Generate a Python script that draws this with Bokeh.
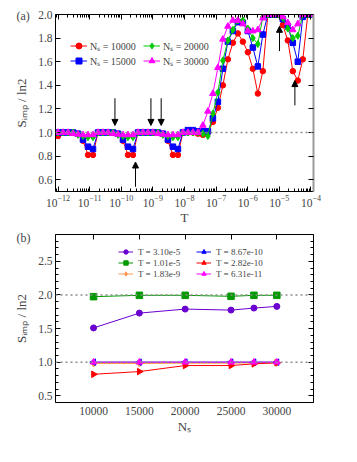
from bokeh.plotting import figure
from bokeh.models import (Range1d, LogAxis, LinearAxis, LogTicker, SingleIntervalTicker,
                          Span, Arrow, NormalHead, Legend, LegendItem, Title,
                          CustomJSTickFormatter, NumeralTickFormatter)
from bokeh.layouts import column
from bokeh.embed import file_html
from bokeh.resources import INLINE

FONT = "Liberation Serif"

# ---------------- panel (a) data ----------------
log10_T = [-12.000, -11.842, -11.684, -11.526, -11.368, -11.210, -11.052, -10.894, -10.736, -10.578,
           -10.420, -10.262, -10.104, -9.946, -9.788, -9.630, -9.472, -9.314, -9.156, -8.998,
           -8.840, -8.682, -8.524, -8.366, -8.208, -8.050, -7.892, -7.734, -7.576, -7.418,
           -7.260, -7.102, -6.944, -6.786, -6.628, -6.470, -6.312, -6.154, -5.996, -5.838,
           -5.680, -5.522, -5.364, -5.206, -5.048, -4.890, -4.732, -4.574, -4.416, -4.258,
           -4.100, -3.942]
S_10000 = [0.97, 1.0, 1.0, 1.0, 0.99, 0.93, 0.81, 0.81, 1.0, 1.0,
           1.0, 1.0, 0.99, 0.93, 0.81, 0.81, 1.0, 1.0, 1.0, 1.0,
           1.0, 0.99, 0.93, 0.81, 0.81, 1.0, 1.0, 1.0, 0.99, 0.98,
           1.0, 1.09, 1.21, 1.40, 1.62, 1.76, 1.84, 1.77, 1.68, 1.54,
           1.33, 1.52, 2.0, 2.0, 2.0, 1.91, 1.78, 1.52, 1.44, 1.62,
           2.0, 2.0]
S_15000 = [1.0, 1.0, 1.0, 1.0, 0.99, 0.94, 0.88, 0.86, 1.0, 1.0,
           1.0, 1.0, 0.99, 0.94, 0.88, 0.86, 1.0, 1.0, 1.0, 1.0,
           1.0, 0.99, 0.94, 0.88, 0.86, 1.0, 1.02, 1.02, 1.01, 1.01,
           1.01, 1.12, 1.26, 1.54, 1.77, 1.86, 1.935, 1.93, 1.86, 1.72,
           1.56, 1.83, 2.0, 2.0, 2.0, 1.96, 1.90, 1.76, 1.60, 1.98,
           2.0, 2.0]
S_20000 = [1.0, 1.0, 1.0, 1.0, 0.98, 0.97, 0.96, 0.96, 1.0, 1.0,
           1.0, 1.0, 0.98, 0.97, 0.96, 0.96, 1.0, 1.0, 1.0, 1.0,
           1.0, 0.98, 0.97, 0.96, 0.96, 1.0, 1.0, 1.0, 1.0, 0.99,
           0.97, 1.16, 1.34, 1.61, 1.78, 1.87, 1.95, 1.95, 1.88, 1.80,
           1.75, 1.98, 2.0, 2.0, 2.0, 1.97, 1.88, 1.80, 1.82, 2.0,
           2.0, 2.0]
S_30000 = [1.0, 1.0, 1.0, 0.99, 0.985, 0.98, 0.98, 0.98, 1.0, 1.0,
           1.0, 0.99, 0.985, 0.98, 0.98, 0.98, 1.0, 1.0, 1.0, 1.0,
           0.99, 0.985, 0.98, 0.98, 0.98, 1.0, 1.0, 1.0, 1.0, 1.06,
           1.18, 1.33, 1.55, 1.79, 1.90, 1.95, 1.95, 1.92, 1.86, 1.86,
           1.87, 1.97, 2.0, 2.0, 2.0, 1.98, 1.93, 1.87, 1.92, 2.0,
           2.0, 2.0]
Ns_labels_a = ["N\u209b = 10000", "N\u209b = 15000", "N\u209b = 20000", "N\u209b = 30000"]

# ---------------- panel (b) data ----------------
Ns = [10000, 15000, 20000, 25000, 27500, 30000]
S_T310e5 = [1.51, 1.73, 1.79, 1.775, 1.805, 1.83]
S_T101e5 = [1.975, 1.995, 1.995, 1.98, 1.995, 1.995]
S_T183e9 = [0.98, 0.98, 0.985, 0.985, 0.99, 0.99]
S_T867e10 = [1.0, 1.0, 1.0, 1.0, 1.0, 1.0]
S_T282e10 = [0.82, 0.86, 0.95, 0.95, 0.975, 0.99]
S_T631e11 = [1.0, 1.0, 1.0, 1.0, 1.0, 1.0]
T_labels_b = ["T = 3.10e-5", "T = 1.01e-5", "T = 1.83e-9",
              "T = 8.67e-10", "T = 2.82e-10", "T = 6.31e-11"]
T_marked = [3.10e-5, 1.01e-5, 1.83e-9, 8.67e-10, 2.82e-10, 6.31e-11]

YLABEL = "S\u1d62\u2098\u209a / ln2"


def style_axis(ax, tick_font="11.5px"):
    ax.major_tick_in = 5
    ax.major_tick_out = 0
    ax.minor_tick_in = 3
    ax.minor_tick_out = 0
    ax.major_label_text_font = FONT
    ax.major_label_text_font_size = tick_font
    ax.axis_label_text_font = FONT
    ax.axis_label_text_font_size = "13px"
    ax.axis_label_text_font_style = "normal"
    ax.axis_line_color = "black"
    ax.major_tick_line_color = "black"
    ax.minor_tick_line_color = "black"


def blank_axis(ax):
    ax.formatter = CustomJSTickFormatter(code="return ''")
    ax.major_label_standoff = 0
    ax.major_label_text_font_size = "1px"


def panel_title(text, standoff):
    return Title(text=text, align="left", offset=-39, standoff=standoff,
                 text_font=FONT, text_font_size="12px", text_font_style="normal")


# ================= panel (a) =================
pa = figure(width=338, height=228, x_axis_type="log",
            x_range=Range1d(10 ** -12.08, 10 ** -3.92), y_range=Range1d(0.5, 2.0),
            output_backend="svg", toolbar_location=None,
            min_border_left=55, min_border_right=25, min_border_top=14, min_border_bottom=37)
pa.xgrid.grid_line_color = None
pa.ygrid.grid_line_color = None
pa.outline_line_color = None

xt = LogTicker(desired_num_ticks=9, num_minor_ticks=10)
yt = SingleIntervalTicker(interval=0.2, num_minor_ticks=0)
pa.xaxis.ticker = xt
pa.yaxis.ticker = yt
pa.yaxis.formatter = NumeralTickFormatter(format="0.0")
pa.xaxis.axis_label = "T"
pa.yaxis.axis_label = YLABEL
style_axis(pa.xaxis[0])
style_axis(pa.yaxis[0])
pa.xaxis.major_label_standoff = 3
pa.xaxis.axis_label_standoff = 0
pa.yaxis.major_label_standoff = 3
pa.yaxis.axis_label_standoff = 6

ax_top = LogAxis(ticker=xt)
style_axis(ax_top)
blank_axis(ax_top)
pa.add_layout(ax_top, "above")
ax_right = LinearAxis(ticker=yt)
style_axis(ax_right)
blank_axis(ax_right)
ax_right.axis_line_color = "#9a9a9a"
ax_right.axis_line_width = 2
pa.add_layout(ax_right, "right")

pa.add_layout(Span(location=1.0, dimension="width", line_color="#8c8c8c",
                   line_dash="2 3", line_width=1.5))

T_a = [10 ** e for e in log10_T]
series_a = [
    (S_10000, "#ff0000", "circle", 5.5),
    (S_15000, "#0000ff", "square", 5.5),
    (S_20000, "#00cc00", "diamond", 7),
    (S_30000, "#ff00ff", "triangle", 6.5),
]
items_a = []
for (vals, col, mk, sz), lab in zip(series_a, Ns_labels_a):
    r1 = pa.line(T_a, vals, line_color=col, line_width=1)
    r2 = pa.scatter(T_a, vals, marker=mk, size=sz, fill_color=col, line_color=col)
    items_a.append(LegendItem(label=lab, renderers=[r1, r2]))

leg_a = Legend(items=items_a, location=(15, 123), orientation="vertical", nrows=2,
               border_line_color=None, background_fill_alpha=0, padding=0, margin=0,
               spacing=0, glyph_width=17, glyph_height=15, label_height=15,
               label_width=53, label_standoff=3,
               label_text_font=FONT, label_text_font_size="10px")
pa.add_layout(leg_a)

arrow_specs = [  # (T, y_start, y_end)
    (T_marked[0], 1.23, 1.44),
    (T_marked[1], 1.69, 1.90),
    (T_marked[2], 1.29, 1.06),
    (T_marked[3], 1.29, 1.06),
    (T_marked[4], 0.54, 0.75),
    (T_marked[5], 1.29, 1.06),
]
for t, y0, y1 in arrow_specs:
    pa.add_layout(Arrow(end=NormalHead(size=6, fill_color="black", line_color="black"),
                        x_start=t, y_start=y0, x_end=t, y_end=y1,
                        line_color="black", line_width=1))

pa.add_layout(panel_title("(a)", -17), "above")

# ================= panel (b) =================
pb = figure(width=338, height=210,
            x_range=Range1d(5850, 34000), y_range=Range1d(0.4, 2.9),
            output_backend="svg", toolbar_location=None,
            min_border_left=55, min_border_right=25, min_border_top=6, min_border_bottom=36)
pb.xgrid.grid_line_color = None
pb.ygrid.grid_line_color = None
pb.outline_line_color = None

bxt = SingleIntervalTicker(interval=5000, num_minor_ticks=0)
byt = SingleIntervalTicker(interval=0.5, num_minor_ticks=5)
pb.xaxis.ticker = bxt
pb.yaxis.ticker = byt
pb.yaxis.formatter = NumeralTickFormatter(format="0.0")
pb.xaxis.formatter = NumeralTickFormatter(format="0")
pb.xaxis.axis_label = "N\u209b"
pb.yaxis.axis_label = YLABEL
style_axis(pb.xaxis[0])
style_axis(pb.yaxis[0])
pb.xaxis.major_tick_in = 0
pb.xaxis.major_label_standoff = 4
pb.xaxis.axis_label_standoff = 1
pb.yaxis.major_label_standoff = 3
pb.yaxis.axis_label_standoff = 6

bax_top = LinearAxis(ticker=bxt)
style_axis(bax_top)
blank_axis(bax_top)
pb.add_layout(bax_top, "above")
bax_right = LinearAxis(ticker=byt)
style_axis(bax_right)
blank_axis(bax_right)
pb.add_layout(bax_right, "right")

for loc in (1.0, 2.0):
    pb.add_layout(Span(location=loc, dimension="width", line_color="#8c8c8c",
                       line_dash="2 3", line_width=1.5))

series_b = [
    (S_T310e5, "#6a00d0", "circle", 0, 6),
    (S_T101e5, "#009a00", "square", 0, 6.5),
    (S_T183e9, "#ff9955", "diamond", 0, 7),
    (S_T867e10, "#0000ff", "triangle", 1.5708, 6.5),
    (S_T282e10, "#ff0000", "triangle", -1.5708, 6.5),
    (S_T631e11, "#ff00ff", "triangle", 0, 6.5),
]
items_b = []
for (vals, col, mk, ang, sz), lab in zip(series_b, T_labels_b):
    r1 = pb.line(Ns, vals, line_color=col, line_width=1)
    r2 = pb.scatter(Ns, vals, marker=mk, angle=ang, size=sz, fill_color=col, line_color=col)
    items_b.append(LegendItem(label=lab, renderers=[r1, r2]))

leg_b = Legend(items=items_b, location=(63, 123), orientation="vertical", nrows=3,
               border_line_color=None, background_fill_alpha=0, padding=0, margin=0,
               spacing=0, glyph_width=15, glyph_height=11, label_height=11,
               label_width=58, label_standoff=5,
               label_text_font=FONT, label_text_font_size="9px")
pb.add_layout(leg_b)

pb.add_layout(panel_title("(b)", -20), "above")

layout = column(pa, pb, spacing=0)
open("out.html", "w").write(file_html(layout, INLINE))
